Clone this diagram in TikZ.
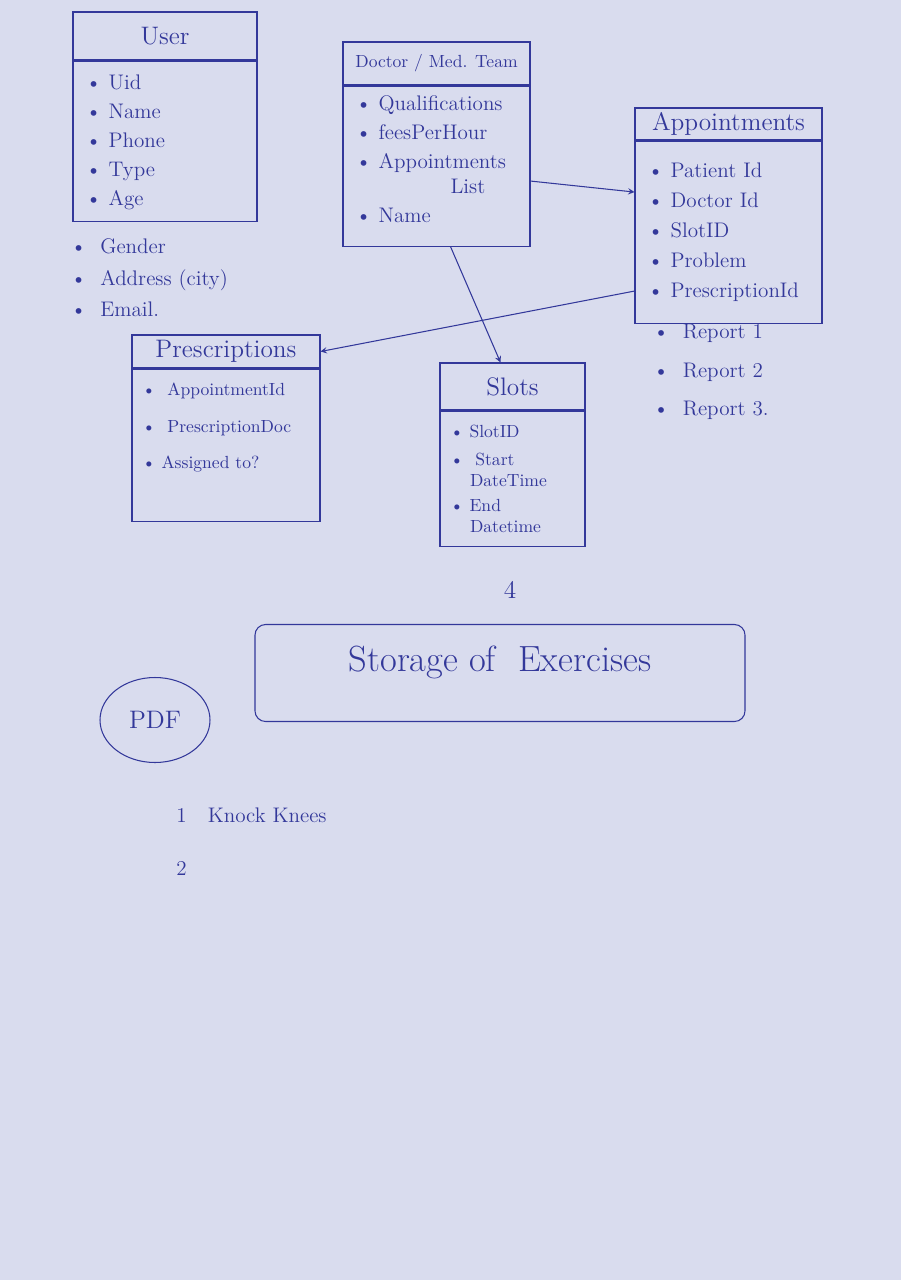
\documentclass[tikz,border=0pt]{standalone}
\usepackage{amsmath}
\usepackage{tikz}
\usetikzlibrary{positioning, shapes.geometric}
\definecolor{ink}{HTML}{33389A}
\definecolor{paper}{HTML}{D9DCEE}

\begin{document}
\begin{tikzpicture}[>=stealth, semithick, color=ink,
    head/.style={draw=ink, text=ink, align=center, inner sep=0pt, font=\Large},
    fields/.style={draw=ink, text=ink, align=left, inner xsep=0.25cm, font=\large},
    extras/.style={text=ink, align=left, inner sep=0pt, font=\large}]
                \fill[paper] (0, 0) rectangle (18.02, -25.6);
                % entities
                \node[head, minimum width=3.68cm, minimum height=0.96cm] (userhead) at (3.3, -0.72) {User};
                \node[fields, below=0pt of userhead, minimum width=3.68cm, text width=3.18cm, minimum height=3.2cm] (user)
                    {\mbox{}\\[-4pt] \textbullet\ Uid\\[2.5pt] \textbullet\ Name\\[2.5pt] \textbullet\ Phone\\[2.5pt] \textbullet\ Type\\[2.5pt] \textbullet\ Age};
                \node[extras, anchor=north west] (userextra) at (1.4, -4.76)
                    {\textbullet\ \ Gender\\[4pt] \textbullet\ \ Address (city)\\[4pt] \textbullet\ \ Email.};
                \node[head, font=\normalsize, minimum width=3.74cm, minimum height=0.86cm] (dochead) at (8.73, -1.27) {Doctor / Med. Team};
                \node[fields, below=0pt of dochead, minimum width=3.74cm, text width=3.24cm, minimum height=3.2cm] (doc)
                    {\textbullet\ Qualifications\\[2.5pt] \textbullet\ feesPerHour\\[2.5pt] \textbullet\ Appointments\\ \hspace*{1.9cm}List\\[2.5pt] \textbullet\ Name\\[-6pt]\mbox{}};
                \node[head, minimum width=3.74cm, minimum height=0.64cm] (appthead) at (14.57, -2.48) {Appointments};
                \node[fields, below=0pt of appthead, minimum width=3.74cm, text width=3.24cm, minimum height=3.64cm] (appt)
                    {\textbullet\ Patient Id\\[3pt] \textbullet\ Doctor Id\\[3pt] \textbullet\ SlotID\\[3pt] \textbullet\ Problem\\[3pt] \textbullet\ PrescriptionId};
                \node[extras, anchor=north west] (apptextra) at (13.05, -6.47)
                    {\textbullet\ \ Report 1\\[8pt] \textbullet\ \ Report 2\\[8pt] \textbullet\ \ Report 3.};
                \node[head, minimum width=3.76cm, minimum height=0.66cm] (preschead) at (4.52, -7.03) {Prescriptions};
                \node[fields, font=\normalsize, below=0pt of preschead, minimum width=3.76cm, text width=3.36cm, inner xsep=0.2cm, minimum height=3.04cm] (presc)
                    {\textbullet\ \ AppointmentId\\[9pt] \textbullet\ \ PrescriptionDoc\\[9pt] \textbullet\ Assigned to?\\[10pt]\mbox{}};
                \node[head, minimum width=2.9cm, minimum height=0.94cm] (slothead) at (10.25, -7.73) {Slots};
                \node[fields, font=\normalsize, below=0pt of slothead, minimum width=2.9cm, text width=2.5cm, inner xsep=0.2cm, minimum height=2.7cm] (slots)
                    {\textbullet\ SlotID\\[4pt] \textbullet\ \ Start\\ \hspace*{0.4cm}DateTime\\[2pt] \textbullet\ End\\ \hspace*{0.4cm}Datetime};
                \path[->] ([yshift=-0.3cm]doc.east) edge ([yshift=0.8cm]appt.west)
                          ([xshift=0.28cm]doc.south) edge ([xshift=-0.24cm]slothead.north)
                          ([yshift=-1.18cm]appt.west) edge (preschead.east);
                % exercises
                \node[text=ink, font=\Large] (four) at (10.2, -11.8) {4};
                \node[draw=ink, text=ink, rounded corners=6pt, minimum width=9.8cm, minimum height=1.94cm, font=\huge] (storage) at (10.0, -13.46) {\raisebox{6pt}[\height][\depth]{Storage of \ Exercises}};
                \node[draw=ink, ellipse, text=ink, minimum width=2.2cm, minimum height=1.7cm, font=\Large] (pdf) at (3.1, -14.4) {PDF};
                \node[text=ink, anchor=west, font=\large] (ex1) at (3.4, -16.3) {1\quad Knock Knees};
                \node[text=ink, anchor=west, font=\large] (ex2) at (3.4, -17.36) {2};
            \end{tikzpicture}
\end{document}
